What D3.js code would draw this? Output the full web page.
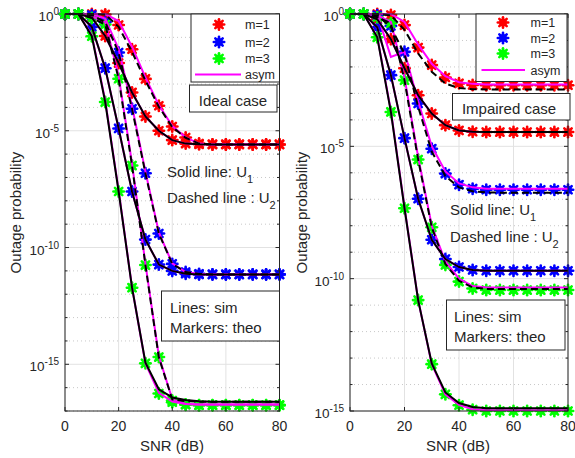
<!DOCTYPE html>
<html>
<head>
<meta charset="utf-8">
<script src="https://cdn.jsdelivr.net/npm/d3@7"></script>
<style>
  body { margin: 0; background: #fff; }
  text { font-family: "Liberation Sans", Arial, Helvetica, sans-serif; fill: #262626; }
</style>
</head>
<body>
<svg id="chart" width="575" height="458"></svg>
<script>
// SNR grid (dB), markers every 5 dB
const snr = [0, 5, 10, 15, 20, 25, 30, 35, 40, 45, 50, 55, 60, 65, 70, 75, 80];

// All values are log10(outage probability)
// --- Ideal case (left panel) ---
const idealM1U1 = [0, 0, -0.15, -0.94, -2.1, -3.36, -4.39, -5.0, -5.4, -5.55, -5.58, -5.585, -5.585, -5.585, -5.585, -5.585, -5.585];
const idealM1U2 = [0, 0, 0, -0.02, -0.47, -1.51, -2.78, -3.93, -4.82, -5.29, -5.55, -5.585, -5.585, -5.585, -5.585, -5.585, -5.585];
const idealM1U2Sim = [0, 0, 0, -0.02, -0.55, -1.62, -2.85, -3.97, -4.84, -5.3, -5.55, -5.585, -5.585, -5.585, -5.585, -5.585, -5.585];
const idealM1U2Asym = [0, 0, 0, 0, -0.3, -1.4, -2.72, -3.9, -4.8, -5.28, -5.55, -5.585, -5.585, -5.585, -5.585, -5.585, -5.585];

const idealM2U1 = [0, 0, -0.55, -2.32, -4.9, -7.6, -9.66, -10.73, -11.0, -11.12, -11.15, -11.15, -11.15, -11.15, -11.15, -11.15, -11.15];
const idealM2U2 = [0, 0, -0.05, -0.35, -1.65, -4.06, -6.82, -9.4, -10.7, -11.05, -11.13, -11.15, -11.15, -11.15, -11.15, -11.15, -11.15];
const idealM2U2Asym = [0, 0, 0, -0.2, -1.5, -3.95, -6.75, -9.35, -10.68, -11.05, -11.13, -11.15, -11.15, -11.15, -11.15, -11.15, -11.15];

const idealM3U1 = [0, 0, -0.95, -3.77, -7.6, -11.72, -14.96, -16.25, -16.62, -16.73, -16.75, -16.75, -16.75, -16.75, -16.75, -16.75, -16.75];
const idealM3U1Sim = [0, 0, -0.95, -3.77, -7.6, -11.72, -14.93, -16.07, -16.42, -16.53, -16.58, -16.6, -16.6, -16.6, -16.6, -16.6, -16.6];
const idealM3U1Asym = [0, 0, -0.9, -3.7, -7.55, -11.7, -14.96, -16.22, -16.6, -16.7, -16.72, -16.72, -16.72, -16.72, -16.72, -16.72, -16.72];
const idealM3U2 = [0, 0, -0.17, -0.45, -2.77, -6.49, -10.75, -14.69, -16.55, -16.72, -16.75, -16.75, -16.75, -16.75, -16.75, -16.75, -16.75];
const idealM3U2Sim = [0, 0, -0.17, -0.45, -2.77, -6.49, -10.75, -14.71, -16.5, -16.58, -16.6, -16.6, -16.6, -16.6, -16.6, -16.6, -16.6];
const idealM3U2Asym = [0, 0, -0.1, -0.35, -2.65, -6.4, -10.7, -14.65, -16.5, -16.7, -16.72, -16.72, -16.72, -16.72, -16.72, -16.72, -16.72];

// --- Impaired case (right panel) ---
const impM1U1 = [0, 0, -0.2, -0.95, -2.05, -3.07, -3.76, -4.2, -4.4, -4.45, -4.46, -4.46, -4.46, -4.46, -4.46, -4.46, -4.46];
const impM1U2 = [0, 0, 0, -0.04, -0.42, -1.27, -1.93, -2.4, -2.62, -2.68, -2.69, -2.69, -2.69, -2.69, -2.69, -2.69, -2.69];
const impM1U2Sim = [0, 0, 0, -0.05, -0.6, -1.49, -2.18, -2.63, -2.8, -2.84, -2.85, -2.85, -2.85, -2.85, -2.85, -2.85, -2.85];
const impM1U2Asym = [0, 0, 0, 0, -0.3, -1.15, -1.88, -2.35, -2.58, -2.64, -2.66, -2.66, -2.66, -2.66, -2.66, -2.66, -2.66];

const impM2U1 = [0, 0, -0.5, -2.31, -4.69, -6.98, -8.53, -9.26, -9.56, -9.67, -9.7, -9.7, -9.7, -9.7, -9.7, -9.7, -9.7];
const impM2U2 = [0, 0, -0.05, -0.45, -1.43, -3.38, -5.09, -6.03, -6.45, -6.6, -6.64, -6.64, -6.64, -6.64, -6.64, -6.64, -6.64];
const impM2U2Sim = [0, 0, -0.05, -0.5, -1.5, -3.5, -5.2, -6.12, -6.55, -6.7, -6.74, -6.75, -6.75, -6.75, -6.75, -6.75, -6.75];
const impM2U2Asym = [0, 0, 0, -1.62, -1.43, -3.3, -5.0, -5.95, -6.4, -6.55, -6.6, -6.6, -6.6, -6.6, -6.6, -6.6, -6.6];

const impM3U1 = [0, 0, -0.88, -3.7, -7.34, -10.81, -13.23, -14.37, -14.78, -14.95, -15.0, -15.0, -15.0, -15.0, -15.0, -15.0, -15.0];
const impM3U1Sim = [0, 0, -0.88, -3.7, -7.34, -10.81, -13.2, -14.3, -14.7, -14.85, -14.9, -14.9, -14.9, -14.9, -14.9, -14.9, -14.9];
const impM3U1Asym = [0, 0, -0.85, -3.65, -7.3, -10.8, -13.23, -14.37, -14.77, -14.93, -14.97, -14.97, -14.97, -14.97, -14.97, -14.97, -14.97];
const impM3U2 = [0, 0, -0.12, -0.35, -2.5, -5.5, -8.06, -9.48, -10.11, -10.37, -10.43, -10.43, -10.43, -10.43, -10.43, -10.43, -10.43];
const impM3U2Sim = [0, 0, -0.12, -0.35, -2.5, -5.5, -8.06, -9.45, -10.08, -10.33, -10.39, -10.39, -10.39, -10.39, -10.39, -10.39, -10.39];
const impM3U2Asym = [0, 0, -0.05, -0.3, -2.4, -5.4, -8.0, -9.35, -10.0, -10.28, -10.33, -10.33, -10.33, -10.33, -10.33, -10.33, -10.33];

const xTicks = [0, 20, 40, 60, 80];
const legendLabels = ["m=1", "m=2", "m=3"];
const mColors = ["#ff0000", "#0000ff", "#00ff00"];

const svg = d3.select("#chart");

const panels = [
    {
        id: "ideal", left: 65, right: 279.5, top: 14, bottom: 411, minExp: -17,
        majors: [0, -5, -10, -15],
        curves: [
            { m: 0, dashed: false, theo: idealM1U1, sim: idealM1U1, asym: idealM1U1 },
            { m: 0, dashed: true, theo: idealM1U2, sim: idealM1U2Sim, asym: idealM1U2Asym },
            { m: 1, dashed: false, theo: idealM2U1, sim: idealM2U1, asym: idealM2U1 },
            { m: 1, dashed: true, theo: idealM2U2, sim: idealM2U2, asym: idealM2U2Asym },
            { m: 2, dashed: false, theo: idealM3U1, sim: idealM3U1Sim, asym: idealM3U1Asym },
            { m: 2, dashed: true, theo: idealM3U2, sim: idealM3U2Sim, asym: idealM3U2Asym }
        ],
        legend: { x: 191, y: 14, w: 88.5, h: 68, rows: [24.5, 42, 58.5, 74.5], mx: 219, tx: 245, lx1: 195, lx2: 241 },
        caseBox: { x: 189.5, y: 85, w: 87.5, h: 27, text: "Ideal case", tx: 233, ty: 105.5 },
        solidText: { x: 167, y: 176.5 },
        dashText: { x: 167, y: 202.5 },
        simBox: { x: 161.5, y: 291, w: 118, h: 50, tx: 170, ty1: 313, ty2: 332.5 },
        yLabelX: 21, xLabelX: 172
    },
    {
        id: "impaired", left: 350, right: 568, top: 14, bottom: 411, minExp: -15,
        majors: [0, -5, -10, -15],
        curves: [
            { m: 0, dashed: false, theo: impM1U1, sim: impM1U1, asym: impM1U1 },
            { m: 0, dashed: true, theo: impM1U2, sim: impM1U2Sim, asym: impM1U2Asym },
            { m: 1, dashed: false, theo: impM2U1, sim: impM2U1, asym: impM2U1 },
            { m: 1, dashed: true, theo: impM2U2, sim: impM2U2Sim, asym: impM2U2Asym },
            { m: 2, dashed: false, theo: impM3U1, sim: impM3U1Sim, asym: impM3U1Asym },
            { m: 2, dashed: true, theo: impM3U2, sim: impM3U2Sim, asym: impM3U2Asym }
        ],
        legend: { x: 476, y: 14, w: 91, h: 67.5, rows: [22.5, 38, 53.5, 70], mx: 503, tx: 530.5, lx1: 481.5, lx2: 525 },
        caseBox: { x: 452.5, y: 93.5, w: 117.5, h: 26.5, text: "Impaired case", tx: 509, ty: 113.5 },
        solidText: { x: 450, y: 214.5 },
        dashText: { x: 450, y: 241.5 },
        simBox: { x: 446.5, y: 300, w: 118.5, h: 50, tx: 454, ty1: 321.5, ty2: 341.5 },
        yLabelX: 307, xLabelX: 458
    }
];

// MATLAB-like '*' marker drawn thick, reads as a spiky blob
function drawStar(g, cx, cy, color) {
    const s = g.append("g").attr("transform", `translate(${cx},${cy})`);
    s.append("circle").attr("r", 3.9).attr("fill", color);
    [0, 45, 90, 135].forEach(a => {
        const r = a * Math.PI / 180;
        s.append("line")
            .attr("x1", -5.2 * Math.cos(r)).attr("y1", -5.2 * Math.sin(r))
            .attr("x2", 5.2 * Math.cos(r)).attr("y2", 5.2 * Math.sin(r))
            .attr("stroke", color).attr("stroke-width", 2.6).attr("stroke-linecap", "round");
    });
}

function drawPanel(p) {
    const g = svg.append("g").attr("class", p.id);
    const x = d3.scaleLinear().domain([0, 80]).range([p.left, p.right]);
    const y = d3.scaleLog().domain([Math.pow(10, p.minExp), 1]).range([p.bottom, p.top]);
    const decades = d3.range(p.minExp, 1);

    // minor dotted grid at each decade
    decades.filter(e => !p.majors.includes(e)).forEach(e => {
        g.append("line")
            .attr("x1", p.left).attr("x2", p.right)
            .attr("y1", y(Math.pow(10, e))).attr("y2", y(Math.pow(10, e)))
            .attr("stroke", "#c8c8c8").attr("stroke-width", 1).attr("stroke-dasharray", "1,3");
    });
    // major grid
    p.majors.forEach(e => {
        g.append("line")
            .attr("x1", p.left).attr("x2", p.right)
            .attr("y1", y(Math.pow(10, e))).attr("y2", y(Math.pow(10, e)))
            .attr("stroke", "#e2e2e2").attr("stroke-width", 1);
    });
    xTicks.forEach(t => {
        g.append("line")
            .attr("x1", x(t)).attr("x2", x(t))
            .attr("y1", p.top).attr("y2", p.bottom)
            .attr("stroke", "#e2e2e2").attr("stroke-width", 1);
    });

    // clip for lines
    const clipId = "clip-" + p.id;
    svg.append("clipPath").attr("id", clipId).append("rect")
        .attr("x", p.left).attr("y", p.top - 1)
        .attr("width", p.right - p.left).attr("height", p.bottom - p.top + 1);

    const line = d3.line()
        .x((d, i) => x(snr[i]))
        .y(d => y(Math.pow(10, d)));

    // markers (theory)
    const mk = g.append("g");
    p.curves.forEach(c => {
        c.theo.forEach((v, i) => drawStar(mk, x(snr[i]), y(Math.pow(10, v)), mColors[c.m]));
    });

    const lines = g.append("g").attr("clip-path", `url(#${clipId})`);
    // asymptotic curves
    p.curves.forEach(c => {
        lines.append("path").datum(c.asym)
            .attr("d", line).attr("fill", "none")
            .attr("stroke", "#ff00ff").attr("stroke-width", 2);
    });
    // simulation curves
    p.curves.forEach(c => {
        lines.append("path").datum(c.sim)
            .attr("d", line).attr("fill", "none")
            .attr("stroke", "#000").attr("stroke-width", 2)
            .attr("stroke-dasharray", c.dashed ? "7,4" : null);
    });

    // axes box
    g.append("rect")
        .attr("x", p.left).attr("y", p.top)
        .attr("width", p.right - p.left).attr("height", p.bottom - p.top)
        .attr("fill", "none").attr("stroke", "#262626").attr("stroke-width", 1);

    // y ticks
    decades.forEach(e => {
        const yy = y(Math.pow(10, e));
        const len = p.majors.includes(e) ? 4 : 2.5;
        g.append("line").attr("x1", p.left).attr("x2", p.left + len).attr("y1", yy).attr("y2", yy)
            .attr("stroke", "#262626");
        g.append("line").attr("x1", p.right).attr("x2", p.right - len).attr("y1", yy).attr("y2", yy)
            .attr("stroke", "#262626");
    });
    p.majors.forEach(e => {
        const yy = y(Math.pow(10, e));
        const t = g.append("text")
            .attr("x", p.left - 6).attr("y", yy + 7)
            .attr("text-anchor", "end").style("font-size", "13.5px");
        t.append("tspan").text("10");
        t.append("tspan").attr("dy", -6).style("font-size", "10px").text(e === 0 ? "0" : "-" + (-e));
    });

    // x ticks
    xTicks.forEach(tk => {
        g.append("line").attr("x1", x(tk)).attr("x2", x(tk)).attr("y1", p.bottom).attr("y2", p.bottom - 4)
            .attr("stroke", "#262626");
        g.append("line").attr("x1", x(tk)).attr("x2", x(tk)).attr("y1", p.top).attr("y2", p.top + 4)
            .attr("stroke", "#262626");
        g.append("text")
            .attr("x", x(tk)).attr("y", 430.5)
            .attr("text-anchor", "middle").style("font-size", "14px")
            .text(tk);
    });

    // axis labels
    g.append("text")
        .attr("x", p.xLabelX).attr("y", 451)
        .attr("text-anchor", "middle").style("font-size", "15px")
        .text("SNR (dB)");
    g.append("text")
        .attr("transform", `translate(${p.yLabelX},${(p.top + p.bottom) / 2}) rotate(-90)`)
        .attr("text-anchor", "middle").style("font-size", "15px")
        .text("Outage probability");

    // legend
    const L = p.legend;
    g.append("rect").attr("x", L.x).attr("y", L.y).attr("width", L.w).attr("height", L.h)
        .attr("fill", "#fff").attr("stroke", "#262626").attr("stroke-width", 1);
    legendLabels.forEach((lab, i) => {
        drawStar(g, L.mx, L.rows[i], mColors[i]);
        g.append("text").attr("x", L.tx).attr("y", L.rows[i] + 4.5)
            .style("font-size", "12.5px").text(lab);
    });
    g.append("line").attr("x1", L.lx1).attr("x2", L.lx2).attr("y1", L.rows[3]).attr("y2", L.rows[3])
        .attr("stroke", "#ff00ff").attr("stroke-width", 2);
    g.append("text").attr("x", L.tx).attr("y", L.rows[3] + 4.5)
        .style("font-size", "12.5px").text("asym");

    // case box
    const C = p.caseBox;
    g.append("rect").attr("x", C.x).attr("y", C.y).attr("width", C.w).attr("height", C.h)
        .attr("fill", "#fff").attr("stroke", "#262626").attr("stroke-width", 1);
    g.append("text").attr("x", C.tx).attr("y", C.ty).attr("text-anchor", "middle")
        .style("font-size", "15px").text(C.text);

    // line style notes
    const s1 = g.append("text").attr("x", p.solidText.x).attr("y", p.solidText.y).style("font-size", "15px");
    s1.append("tspan").text("Solid line: U");
    s1.append("tspan").attr("dy", 6).style("font-size", "11px").text("1");
    const s2 = g.append("text").attr("x", p.dashText.x).attr("y", p.dashText.y).style("font-size", "15px");
    s2.append("tspan").text("Dashed line : U");
    s2.append("tspan").attr("dy", 6).style("font-size", "11px").text("2");

    // sim/theo box
    const S = p.simBox;
    g.append("rect").attr("x", S.x).attr("y", S.y).attr("width", S.w).attr("height", S.h)
        .attr("fill", "#fff").attr("stroke", "#262626").attr("stroke-width", 1);
    g.append("text").attr("x", S.tx).attr("y", S.ty1).style("font-size", "15px").text("Lines: sim");
    g.append("text").attr("x", S.tx).attr("y", S.ty2).style("font-size", "15px").text("Markers: theo");
}

panels.forEach(drawPanel);
</script>
</body>
</html>
